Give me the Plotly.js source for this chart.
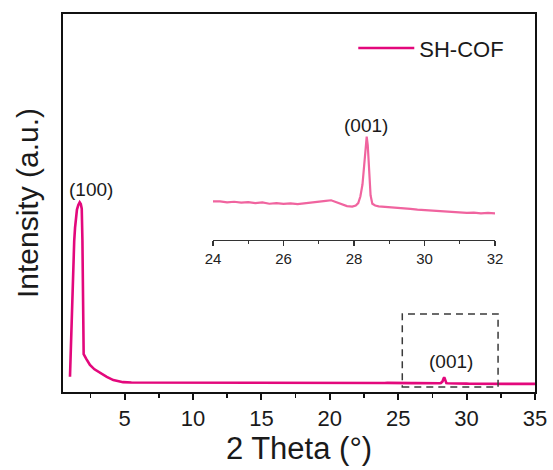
<!DOCTYPE html>
<html>
<head>
<meta charset="utf-8">
<script src="https://cdn.plot.ly/plotly-3.0.1.min.js"></script>
<style>
  html, body { margin: 0; padding: 0; background: #fff; }
  #chart { width: 553px; height: 470px; }
</style>
</head>
<body>
<div id="chart"></div>
<script>
const FONT = 'Liberation Sans, Arial, Helvetica, sans-serif';

// SH-COF powder XRD pattern.
// Sampling is coarse across the low-angle (100) peak and the flat background,
// and fine across 24–32° where the weak (001) reflection sits.
const twoTheta = [
  1.01, 1.10, 1.18, 1.25, 1.32, 1.38, 1.45, 1.52, 1.62, 1.72, 1.80, 1.87, 1.92, 1.95, 1.98, 2.01,
  2.20, 2.47, 2.80, 3.20, 3.70, 4.18, 4.60, 4.89, 5.5, 7.0, 9.0, 11.0, 11.3, 12.0, 14.0, 16.0,
  18.0, 20.0, 22.0, 23.5,
  24.0, 24.2, 24.4, 24.6, 24.8, 25.0, 25.2, 25.4, 25.6, 25.8, 26.0, 26.2, 26.4, 26.6, 26.8, 27.0,
  27.2, 27.35, 27.5, 27.65, 27.8, 27.95, 28.05, 28.12, 28.18, 28.24, 28.29, 28.33, 28.36, 28.39,
  28.43, 28.47, 28.52, 28.6, 28.7, 28.8, 29.0, 29.2, 29.4, 29.6, 29.8, 30.0, 30.2, 30.4, 30.6,
  30.8, 31.0, 31.2, 31.4, 31.6, 31.8, 32.0,
  32.5, 33.0, 34.0, 35.0
];
const intensity = [
  81, 330, 540, 689, 800, 868, 930, 965, 990, 1004, 995, 970, 800, 600, 320, 200,
  175, 143, 120, 101, 80, 63, 55, 52, 50, 49.5, 49, 50, 51, 49, 49, 48.5,
  48.6, 48.2, 48.4, 48.1,
  48.0, 48.3, 47.8, 48.1, 47.7, 47.9, 47.5, 47.8, 47.2, 47.5, 47.1, 47.4, 47.0, 47.3, 47.6, 47.9,
  48.5, 48.8, 48.0, 46.9, 46.1, 45.9, 46.4, 47.5, 50.5, 56.0, 66.0, 75.5, 78.0, 74.0,
  62.0, 51.0, 47.2, 46.4, 46.0, 45.9, 45.5, 45.3, 45.0, 44.8, 44.5, 44.3, 43.9, 43.6, 43.5,
  43.2, 43.3, 43.0, 43.1, 42.8, 43.0, 42.8,
  43.1, 42.9, 43.0, 42.8
];

const seriesName = 'SH-COF';
const peakLabels = ['(100)', '(001)'];

const mainTrace = {
  x: twoTheta, y: intensity, name: seriesName,
  type: 'scatter', mode: 'lines',
  line: { color: '#e3087c', width: 2.6 },
  xaxis: 'x', yaxis: 'y'
};

// magnified view of 24–32°
const insetTrace = {
  x: twoTheta, y: intensity, name: seriesName, showlegend: false,
  type: 'scatter', mode: 'lines',
  line: { color: '#f0649f', width: 2.2 },
  xaxis: 'x2', yaxis: 'y2'
};

const textFont = { family: FONT, size: 19, color: '#1a1a1a' };

const layout = {
  width: 553, height: 470,
  margin: { l: 63, r: 18, t: 14, b: 78 },
  paper_bgcolor: '#fff', plot_bgcolor: '#fff',
  font: { family: FONT, color: '#1a1a1a' },
  showlegend: true,
  legend: {
    x: 0.615, y: 0.965, xanchor: 'left', yanchor: 'top',
    font: { family: FONT, size: 22, color: '#1a1a1a' },
    bgcolor: 'rgba(0,0,0,0)', itemwidth: 56
  },
  xaxis: {
    range: [0.5, 35], tick0: 0, dtick: 5,
    ticks: 'outside', ticklen: 6, tickwidth: 2, tickcolor: '#111',
    minor: { dtick: 2.5, ticks: 'outside', ticklen: 3.5, tickwidth: 1.5, tickcolor: '#111' },
    showline: true, mirror: true, linewidth: 2, linecolor: '#111',
    showgrid: false, zeroline: false,
    tickfont: { family: FONT, size: 22, color: '#1a1a1a' },
    title: { text: '2 Theta (°)', font: { family: FONT, size: 31, color: '#1a1a1a' }, standoff: 1 }
  },
  yaxis: {
    range: [0, 2000],
    showticklabels: false, ticks: '',
    showline: true, mirror: true, linewidth: 2, linecolor: '#111',
    showgrid: false, zeroline: false,
    title: { text: 'Intensity (a.u.)', font: { family: FONT, size: 30, color: '#1a1a1a' }, standoff: 14 }
  },
  xaxis2: {
    domain: [0.3178, 0.9153], anchor: 'y2',
    range: [24, 32], tick0: 24, dtick: 2,
    ticks: 'outside', ticklen: 5, tickwidth: 1.2, tickcolor: '#333',
    minor: { dtick: 1, ticks: 'outside', ticklen: 3, tickwidth: 1.2, tickcolor: '#333' },
    showline: true, linewidth: 1.2, linecolor: '#333',
    showgrid: false, zeroline: false,
    tickfont: { family: FONT, size: 15, color: '#222' }
  },
  yaxis2: {
    domain: [0.4021, 0.7196], anchor: 'x2',
    range: [30.57, 85.6], visible: false
  },
  annotations: [
    { xref: 'x', yref: 'y', x: 2.55, y: 1074, text: peakLabels[0], showarrow: false, font: textFont },
    { xref: 'x', yref: 'y', x: 28.86, y: 159, text: peakLabels[1], showarrow: false, font: textFont },
    { xref: 'x2', yref: 'y2', x: 28.34, y: 82.9, text: peakLabels[1], showarrow: false, font: textFont }
  ],
  shapes: [
    // region shown in the magnified view
    { type: 'rect', xref: 'x', yref: 'y', x0: 25.3, x1: 32.3, y0: 26, y1: 413,
      line: { color: '#3a3a3a', width: 1.5, dash: '7px,5px' }, fillcolor: 'rgba(0,0,0,0)' }
  ]
};

Plotly.newPlot('chart', [mainTrace, insetTrace], layout, { displayModeBar: false, staticPlot: true });
</script>
</body>
</html>
